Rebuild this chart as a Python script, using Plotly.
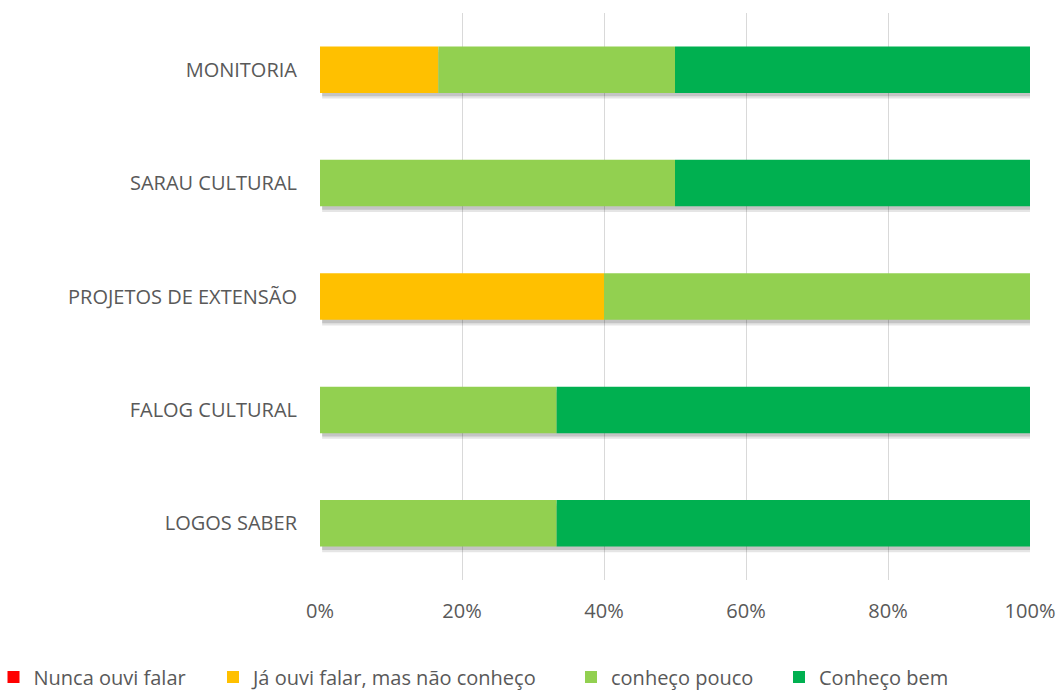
import plotly.graph_objects as go

categories = ["LOGOS SABER", "FALOG CULTURAL", "PROJETOS DE EXTENSÃO", "SARAU CULTURAL", "MONITORIA"]
series_names = ["Nunca ouvi falar", "Já ouvi falar, mas não conheço", "conheço pouco", "Conheço bem"]
nunca = [0, 0, 0, 0, 0]
ja_ouvi = [0, 0, 40, 0, 16.67]
pouco = [33.33, 33.33, 60, 50, 33.33]
bem = [66.67, 66.67, 0, 50, 50]
colors = ["#FF0000", "#FFC000", "#92D050", "#00B050"]
x_ticks = [0, 20, 40, 60, 80, 100]
x_ticklabels = ["0%", "20%", "40%", "60%", "80%", "100%"]

FONT = "Open Sans"
TXT = "#595959"
W, H = 1060, 691
L, R, T, B = 320, 30, 13, 111
BW = 0.41

series = [nunca, ja_ouvi, pouco, bem]
totals = [sum(v) for v in zip(*series)]

fig = go.Figure()
# soft drop shadow under each bar
for alpha, dy in [(0.10, 0.05), (0.14, 0.03)]:
    fig.add_trace(go.Bar(
        y=categories, x=[t - 0.1 for t in totals], base=0.3, orientation="h",
        width=BW, offset=-BW / 2 - dy,
        marker=dict(color=f"rgba(0,0,0,{alpha})", line=dict(width=0)),
        showlegend=False, hoverinfo="skip",
    ))

legend_ids = ["legend", "legend2", "legend3", "legend4"]
base = [0] * len(categories)
for name, vals, col, lg in zip(series_names, series, colors, legend_ids):
    fig.add_trace(go.Bar(
        y=categories, x=vals, base=list(base), name=name, orientation="h",
        width=BW, offset=-BW / 2,
        marker=dict(color=col, line=dict(width=0)),
        legend=lg, hoverinfo="skip",
    ))
    base = [b + v for b, v in zip(base, vals)]

ref_symbol_px = [18.5, 238, 596, 804]
legend_px = [p - 25 for p in ref_symbol_px]
plot_h = H - T - B
common_leg = dict(orientation="h", xref="paper", yref="paper", y=-(677 - (H - B)) / plot_h,
                  yanchor="middle", xanchor="left", font=dict(family=FONT, size=20, color=TXT),
                  bgcolor="rgba(0,0,0,0)", borderwidth=0)
layout_legends = {}
for lg, lx in zip(legend_ids, legend_px):
    layout_legends[lg] = dict(common_leg, x=(lx - L) / (W - L - R))

fig.update_layout(
    width=W, height=H,
    margin=dict(l=L, r=R, t=T, b=B, autoexpand=False),
    barmode="overlay",
    plot_bgcolor="white", paper_bgcolor="white",
    font=dict(family=FONT, size=20, color=TXT),
    showlegend=True,
    **layout_legends,
)
fig.update_xaxes(
    range=[0, 100], tickvals=x_ticks, ticktext=x_ticklabels, automargin=False,
    showgrid=True, gridcolor="#D9D9D9", gridwidth=1.3, zeroline=False, showline=False,
    ticks="", ticklabelstandoff=17, tickfont=dict(family=FONT, size=20, color=TXT),
)
fig.update_yaxes(
    categoryorder="array", categoryarray=categories, automargin=False,
    range=[-0.5, len(categories) - 0.5],
    showgrid=False, zeroline=False, showline=False, ticks="",
    ticklabelstandoff=22, tickfont=dict(family=FONT, size=20, color=TXT),
)
fig.write_html(
    "out.html",
    config={"displayModeBar": False},
    post_script="document.body.style.margin='0';document.body.style.overflow='hidden';",
)
